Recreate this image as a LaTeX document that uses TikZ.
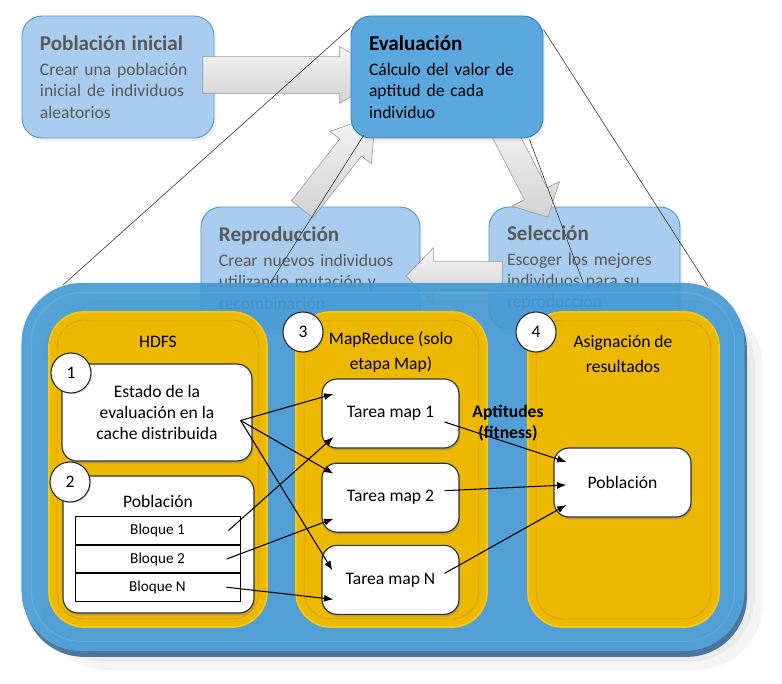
\documentclass[tikz,border=0pt]{standalone}
\usepackage{fontspec}
\setmainfont{Carlito}
\usetikzlibrary{positioning,calc,shapes.arrows,shadows,arrows.meta}

\definecolor{lightblue}{HTML}{A8CDEE}
\definecolor{lightblueborder}{HTML}{5B96C8}
\definecolor{midblue}{HTML}{5AA8DD}
\definecolor{midblueborder}{HTML}{3D7EB5}
\definecolor{bigblue}{HTML}{4298D3}
\definecolor{rimblue}{HTML}{3A6B95}
\definecolor{hiblue}{HTML}{4FA5DE}
\definecolor{yellowcol}{HTML}{EDB900}
\definecolor{yellowedge}{HTML}{F6C810}
\definecolor{yellowline}{HTML}{CF9C00}
\definecolor{greytext}{HTML}{595959}
\definecolor{arrowgrey}{HTML}{9A9A9A}

\newcommand{\stagebody}{\fontsize{15}{18.3}\selectfont}
\newcommand{\stagehead}{\fontsize{18}{22}\selectfont\bfseries}

\begin{document}
\begin{tikzpicture}
  [x=0.03cm, y=-0.03cm,
   stagebox/.style={draw=lightblueborder, fill=lightblue, line width=0.8pt,
                    rounded corners=0.6cm, text=greytext,
                    minimum height=3.66cm, inner xsep=0.54cm,
                    align=left, font=\stagebody,
                    drop shadow={shadow xshift=2pt, shadow yshift=-3pt,
                                 opacity=0.12}},
   evalbox/.style={fill=midblue, draw=midblueborder, text=black},
   blockarrow/.style={single arrow, draw=arrowgrey, line width=0.5pt,
                      top color=gray!8, bottom color=gray!35, inner xsep=0pt},
   cluster/.style={fill=bigblue, rounded corners=1.8cm,
                   minimum width=21.69cm, minimum height=11.04cm,
                   drop shadow={shadow xshift=2pt, shadow yshift=-5pt,
                                fill=rimblue, opacity=1}},
   column/.style={fill=yellowcol, draw=yellowedge, line width=1.5pt,
                  rounded corners=1.05cm, minimum height=9.45cm},
   whitebox/.style={draw=black!80, fill=white, line width=1pt,
                    rounded corners=0.45cm, font=\stagebody, align=center,
                    drop shadow={shadow xshift=1pt, shadow yshift=-2pt,
                                 opacity=0.45}},
   task/.style={minimum width=4.11cm, minimum height=2.07cm},
   numcircle/.style={circle, draw=black!85, fill=white, line width=0.9pt,
                     minimum size=1.2cm, font=\stagebody,
                     drop shadow={shadow xshift=1pt, shadow yshift=-1pt,
                                  opacity=0.3}},
   block/.style={draw, line width=0.8pt, fill=white, inner sep=0pt,
                 minimum width=4.95cm, minimum height=0.83cm,
                 font=\fontsize{13}{14}\selectfont},
   link/.style={-{Latex[length=8pt,width=6pt]}, line width=0.9pt},
   zoomline/.style={line width=0.5pt, black!80}]

  \useasboundingbox (0,0) rectangle (782,684);

  % soft shadow under the cluster
  \foreach \s in {4,10,18}
    \fill[black, opacity=0.04, rounded corners=2cm]
      (40,300) rectangle (745+\s,652+\s);

  % genetic algorithm cycle
  \node[stagebox, text width=4.68cm] (pobini) at (118,77)
    {{\stagehead Población inicial}\\[3pt]
     Crear una población\\inicial de individuos\\aleatorios};
  \node[stagebox, text width=5.49cm] (rep) at (310.5,268)
    {{\stagehead Reproducción}\\[3pt]
     Crear nuevos individuos\\utilizando mutación y\\recombinación};
  \node[stagebox, text width=4.65cm] (sel) at (584.5,268)
    {{\stagehead Selección}\\[3pt]
     Escoger los mejores\\individuos para su\\reproducción};

  \node[blockarrow, minimum height=5.58cm, inner ysep=0.54cm,
        single arrow head extend=0.3cm, single arrow tip angle=60,
        anchor=tail] (arrA) at ($(pobini.east)+(-12,-2)$) {};
  \node[blockarrow, minimum height=3.57cm, inner ysep=0.405cm,
        single arrow head extend=0.375cm, single arrow tip angle=66,
        rotate=51.9, anchor=tail] (arrB) at ($(rep.north)+(-8.5,3)$) {};
  \node[blockarrow, minimum height=3.14cm, inner ysep=0.375cm,
        single arrow head extend=0.42cm, single arrow tip angle=91,
        rotate=-62.7, anchor=tip] (arrC) at ($(sel.north)+(-36.5,11)$) {};
  \node[blockarrow, minimum height=2.88cm, inner ysep=0.42cm,
        single arrow head extend=0.42cm, single arrow tip angle=92,
        rotate=180, anchor=tail] (arrD) at ($(sel.west)+(14,8)$) {};

  \node[stagebox, evalbox, text width=4.68cm] (eval) at (447,77)
    {{\stagehead Evaluación}\\[3pt]
     Cálculo del valor de\\aptitud de cada\\individuo};

  % Hadoop cluster
  \begin{scope}[transparency group, opacity=0.9]
    \node[cluster] (cluster) at (383,467) {};
    \draw[hiblue, line width=1pt, rounded corners=1.5cm]
      ($(cluster.north west)+(10,10)$) rectangle ($(cluster.south east)+(-10,-10)$);
  \end{scope}

  \draw[zoomline] ($(eval.north west)+(0,12)$) -- ($(cluster.north west)+(42,2)$);
  \draw[zoomline] ($(eval.south west)+(13,-3)$) -- ($(cluster.north west)+(249,0)$);
  \draw[zoomline] ($(eval.north east)+(0,14)$) -- ($(cluster.north east)+(-37,3)$);
  \draw[zoomline] ($(eval.south east)+(-14,1)$) -- ($(cluster.north west)+(562,0)$);

  \node[column, minimum width=6.54cm] (hdfscol) at (158,469.5) {};
  \node[column, minimum width=5.73cm] (mrcol) at (391.5,469.5) {};
  \node[column, minimum width=5.73cm] (asigcol) at (623.5,469.5) {};
  \foreach \c in {hdfscol,mrcol,asigcol}
    \draw[yellowline, line width=0.6pt, rounded corners=0.8cm]
      ($(\c.north west)+(9,9)$) rectangle ($(\c.south east)+(-9,-9)$);

  \node[font=\stagebody] (hdfslbl) at (158,342) {HDFS};
  \node[font=\stagebody, align=center] (mrlbl) at (391,352)
    {MapReduce (solo\\[3pt]etapa Map)};
  \node[font=\stagebody, align=center] (asiglbl) at (623,354)
    {Asignación de\\[3pt]resultados};

  % HDFS contents
  \node[whitebox, minimum width=5.7cm, minimum height=2.91cm] (estado)
    at (157,412.5) {Estado de la\\evaluación en la\\cache distribuida};
  \node[whitebox, minimum width=5.73cm, minimum height=4.11cm] (pobhdfs)
    at (158.5,544.5) {};
  \node[font=\stagebody] (pobhdfslbl) at (158,501) {Población};
  \node[block] (b1) at (157.5,530.5) {Bloque 1};
  \node[block, below=0pt of b1] (b2) {Bloque 2};
  \node[block, below=0pt of b2] (b3) {Bloque N};

  % map tasks and result
  \node[whitebox, task] (tm1) at (390.5,413.5) {Tarea map 1};
  \node[whitebox, task, below=0.42cm of tm1] (tm2) {Tarea map 2};
  \node[whitebox, task, below=0.36cm of tm2] (tm3) {Tarea map N};
  \node[whitebox, task] (pobres) at (622.5,482.5) {Población};

  \node[numcircle] (n1) at (71,373) {1};
  \node[numcircle] (n2) at (70,482) {2};
  \node[numcircle] (n3) at (303,332) {3};
  \node[numcircle] (n4) at (536,332) {4};

  \coordinate (estado-out) at ($(estado.east)+(-12,8)$);
  \draw[link] (estado-out) -- ($(tm1.west)+(12,-19.5)$);
  \draw[link] (estado-out) -- ($(tm2.west)+(12,-24)$);
  \draw[link] (estado-out) -- ($(tm3.west)+(11,-9.5)$);
  \draw[link] ($(b1.east)+(-12,0)$) -- ($(tm1.west)+(12,23.5)$);
  \draw[link] ($(b2.east)+(-14,0)$) -- ($(tm2.west)+(12,21)$);
  \draw[link] ($(b3.east)+(-14,-0.5)$) -- ($(tm3.west)+(12,19.5)$);

  \node[font=\stagebody\bfseries, align=center] (aptlbl) at (508,423)
    {Aptitudes\\(fitness)};

  \draw[link] ($(tm1.east)+(-15,8.5)$) -- ($(pobres.west)+(13,-20.5)$);
  \draw[link] ($(tm2.east)+(-15,-7)$) -- ($(pobres.west)+(13,2.5)$);
  \draw[link] ($(tm3.east)+(-15,-6.5)$) -- ($(pobres.west)+(13,22.5)$);
\end{tikzpicture}
\end{document}
